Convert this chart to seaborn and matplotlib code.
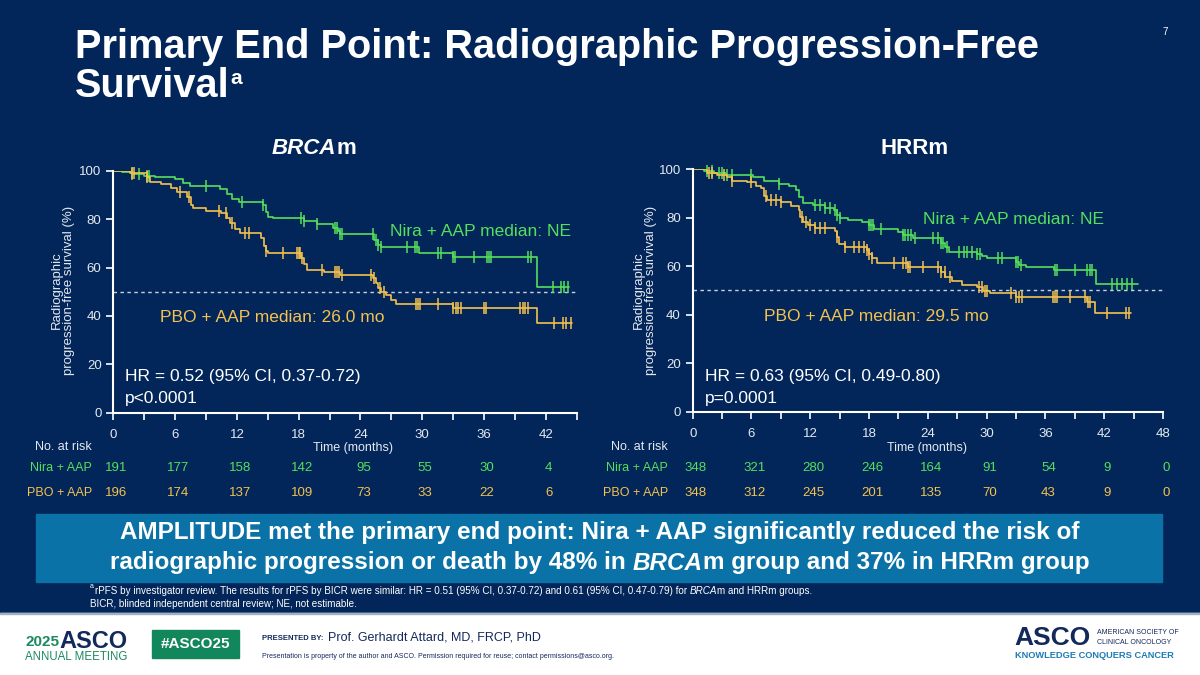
import numpy as np
import pandas as pd
import matplotlib
matplotlib.use('Agg')
import matplotlib.pyplot as plt
import seaborn as sns
from matplotlib.patches import Rectangle
from matplotlib.transforms import blended_transform_factory

# ---- data ----
# BRCAm panel
brca_nira_t = [0, 0.8, 1.8, 3.0, 4.0, 6.0, 6.8, 7.4, 10.4, 11.0, 11.5, 12.2, 14.5, 14.8, 15.0, 15.5,
               18.5, 19.8, 21.3, 21.8, 22.0, 25.3, 25.7, 26.0, 29.7, 33.0, 41.2, 44.3]
brca_nira_s = [100, 99.5, 98.8, 98.0, 97.3, 96.5, 95.0, 93.8, 92.5, 90.5, 88.5, 87.0, 85.8, 83.0, 81.0, 80.6,
               79.3, 78.0, 76.5, 75.0, 73.8, 71.5, 69.5, 68.6, 66.0, 64.5, 51.8, 51.8]
brca_nira_cens = [1.8, 2.5, 3.3, 3.5, 9.0, 12.5, 14.5, 18.2, 18.5, 19.8, 21.5, 21.7, 22.0, 22.2, 25.2, 25.5,
                  25.7, 26.0, 28.5, 29.3, 29.5, 31.5, 31.8, 33.0, 33.2, 35.0, 36.3, 36.5, 36.7, 40.3, 40.6,
                  42.7, 43.5, 43.8, 44.2]

brca_pbo_t = [0, 1.6, 3.3, 3.6, 4.6, 5.6, 6.2, 7.2, 7.5, 7.7, 9.0, 10.5, 11.0, 11.3, 11.8, 12.3, 14.3, 14.6,
              14.8, 15.0, 18.2, 18.5, 18.8, 20.5, 22.0, 25.2, 25.5, 25.7, 26.0, 26.5, 27.0, 27.5, 33.0, 41.2, 44.6]
brca_pbo_s = [100, 99.0, 97.5, 95.5, 94.5, 93.0, 91.3, 89.0, 86.0, 84.4, 83.3, 82.4, 80.3, 78.2, 76.0, 74.1, 72.0,
              69.0, 67.0, 65.8, 63.8, 61.5, 59.0, 58.3, 56.9, 55.5, 53.5, 51.5, 50.0, 48.5, 46.5, 44.9, 43.1,
              37.2, 37.2]
brca_pbo_cens = [1.8, 2.0, 3.3, 6.5, 7.3, 10.3, 10.9, 11.5, 12.8, 13.2, 14.8, 16.5, 17.8, 18.0, 18.1, 18.3,
                 20.3, 21.5, 21.7, 21.9, 22.2, 25.0, 25.3, 25.9, 26.3, 29.4, 29.6, 29.8, 31.5, 33.0, 33.3,
                 33.5, 33.8, 36.0, 36.2, 39.5, 39.8, 40.0, 40.3, 42.8, 43.7, 44.0, 44.5]

# HRRm panel
hrr_nira_t = [0, 1.2, 2.2, 3.4, 6.2, 7.3, 8.8, 9.8, 10.5, 10.9, 11.3, 12.3, 13.5, 14.4, 14.7, 15.0, 15.8,
              17.3, 18.0, 18.5, 21.0, 21.5, 22.5, 25.3, 25.7, 26.2, 29.0, 29.5, 30.0, 33.0, 33.3, 34.0, 36.9,
              41.2, 45.4]
hrr_nira_s = [100, 99.3, 98.5, 97.5, 96.5, 95.0, 94.0, 93.0, 91.5, 88.5, 86.0, 85.0, 84.0, 83.0, 81.0, 79.8,
              79.0, 78.0, 77.0, 75.3, 74.2, 72.8, 71.4, 69.5, 68.0, 66.0, 65.0, 64.0, 63.2, 61.5, 60.3, 59.8,
              58.4, 52.5, 52.5]
hrr_nira_cens = [1.5, 2.0, 2.7, 3.0, 3.5, 4.0, 6.0, 8.8, 12.5, 13.0, 13.5, 14.0, 14.5, 14.7, 15.0, 18.0, 18.2,
                 18.4, 19.2, 21.5, 21.7, 22.0, 22.3, 22.7, 24.5, 25.0, 25.3, 25.5, 26.0, 27.2, 27.7, 28.0,
                 28.5, 29.0, 29.3, 31.2, 31.6, 33.0, 33.2, 33.5, 37.0, 37.2, 39.0, 40.2, 40.5, 40.8, 42.8,
                 43.3, 43.8, 44.3, 44.8]

hrr_pbo_t = [0, 1.5, 2.5, 3.5, 4.0, 5.5, 6.5, 7.0, 7.3, 7.6, 9.0, 10.0, 10.8, 11.0, 11.3, 11.8, 12.5, 14.5,
             14.7, 14.9, 15.5, 17.8, 18.0, 18.3, 18.8, 22.0, 25.3, 25.8, 26.5, 27.5, 29.0, 29.6, 30.3, 33.0,
             40.2, 41.1, 44.7]
hrr_pbo_s = [100, 98.5, 97.5, 96.5, 95.0, 94.5, 93.0, 92.0, 89.0, 87.2, 86.5, 84.8, 83.1, 80.1, 78.0, 77.0,
             75.5, 74.5, 72.1, 69.1, 68.0, 66.6, 65.0, 63.2, 61.1, 59.8, 57.7, 55.6, 53.8, 52.2, 51.5, 49.9,
             48.8, 47.4, 45.3, 40.8, 40.8]
hrr_pbo_cens = [1.7, 2.0, 3.2, 4.0, 6.0, 7.5, 8.0, 8.5, 9.0, 11.2, 11.6, 12.0, 12.5, 13.0, 13.5, 14.7, 15.5,
                16.5, 17.0, 17.5, 17.8, 18.0, 18.3, 20.5, 21.5, 21.8, 22.0, 22.2, 23.5, 25.0, 25.3, 25.7,
                26.3, 29.2, 29.5, 29.8, 30.0, 32.5, 33.0, 33.3, 33.6, 36.8, 37.0, 37.2, 38.5, 40.0, 40.3,
                40.6, 42.3, 44.2, 44.5]

risk_months = [0, 6, 12, 18, 24, 30, 36, 42, 48]
brca_risk_nira = [191, 177, 158, 142, 95, 55, 30, 4]
brca_risk_pbo = [196, 174, 137, 109, 73, 33, 22, 6]
hrr_risk_nira = [348, 321, 280, 246, 164, 91, 54, 9, 0]
hrr_risk_pbo = [348, 312, 245, 201, 135, 70, 43, 9, 0]

# ---- styling ----
NAVY = '#022659'
GREEN = '#55e05c'
YELLOW = '#f3c24f'
BANNER = '#0a72a6'
LIGHT = '#e4e9f0'

sns.set_theme(style='white')
plt.rcParams['font.family'] = ['Liberation Sans', 'DejaVu Sans']

W, H = 1200, 675
fig = plt.figure(figsize=(12, 6.75), dpi=100, facecolor=NAVY)


def fx(x):
    return x / W


def fy(y):
    return 1 - y / H


def put(x, y, s, **kw):
    return fig.text(fx(x), fy(y), s, **kw)


def run(x, y, pieces, size, color, ha='center', weight='normal'):
    # draw a line made of pieces with different styles, side by side
    r = fig.canvas.get_renderer()
    objs = []
    for txt, style in pieces:
        objs.append(fig.text(0, fy(y), txt, fontsize=size, color=color, style=style,
                             weight=weight, va='center', ha='left'))
    widths = [o.get_window_extent(r).width for o in objs]
    x0 = x - sum(widths) / 2 if ha == 'center' else x
    for o, w in zip(objs, widths):
        o.set_x(fx(x0))
        x0 += w
    return x0


# white footer
fig.add_artist(Rectangle((0, 0), 1, fy(613), transform=fig.transFigure, color='white', zorder=0))
fig.add_artist(Rectangle((0, fy(614)), 1, 1 / H, transform=fig.transFigure, color='#9fb0c8', zorder=0))

# title
put(75, 47, 'Primary End Point: Radiographic Progression-Free', fontsize=28.6, weight='bold',
    color='white', va='center')
end = run(75, 86, [('Survival', 'normal')], 28.6, 'white', ha='left', weight='bold')
put(end + 1, 79, 'a', fontsize=15, weight='bold', color='white', va='center')
put(1165, 32, '7', fontsize=7, color='white', va='center', ha='center')


def draw_km(ax, t, s, cens, color):
    df = pd.DataFrame({'t': t, 's': s})
    sns.lineplot(data=df, x='t', y='s', drawstyle='steps-post', color=color, lw=1.2,
                 estimator=None, sort=False, ax=ax)
    idx = np.searchsorted(t, cens, side='right') - 1
    ax.plot(cens, np.array(s)[idx], ls='none', marker='|', ms=8, mew=1.1, color=color, clip_on=False)


def setup_axes(left, right, top, bottom, xmax):
    ax = fig.add_axes([fx(left), fy(bottom), (right - left) / W, (bottom - top) / H])
    ax.set_facecolor('none')
    ax.set_xlim(0, xmax)
    ax.set_ylim(0, 100)
    for sp in ['top', 'right']:
        ax.spines[sp].set_visible(False)
    for sp in ['left', 'bottom']:
        ax.spines[sp].set_color('white')
        ax.spines[sp].set_linewidth(1.5)
    ax.set_xticks(np.arange(0, xmax + 0.1, 6))
    ax.set_xticks(np.arange(3, xmax + 0.1, 6), minor=True)
    ax.set_yticks([0, 20, 40, 60, 80, 100])
    ax.tick_params(axis='both', which='both', direction='out', length=5, width=1.2,
                   color='white', labelcolor=LIGHT, labelsize=9.5, bottom=True, left=True)
    ax.tick_params(axis='x', pad=7)
    ax.axhline(50, color='#c8d0dc', lw=1.0, ls=(0, (2.5, 2.5)), zorder=1)
    return ax


ax1 = setup_axes(113.4, 576.5, 170.7, 412.7, 45)
ax2 = setup_axes(692.7, 1163, 169, 411.7, 48)

draw_km(ax1, brca_nira_t, brca_nira_s, brca_nira_cens, GREEN)
draw_km(ax1, brca_pbo_t, brca_pbo_s, brca_pbo_cens, YELLOW)
draw_km(ax2, hrr_nira_t, hrr_nira_s, hrr_nira_cens, GREEN)
draw_km(ax2, hrr_pbo_t, hrr_pbo_s, hrr_pbo_cens, YELLOW)

for ax in (ax1, ax2):
    ax.set_xlabel('')
    ax.set_ylabel('')

# panel titles
run(314, 148, [('BRCA', 'italic'), ('m', 'normal')], 16, 'white', weight='bold')
put(915, 148, 'HRRm', fontsize=16, weight='bold', color='white', ha='center', va='center')

# y labels
for xc in (63, 645):
    put(xc, 290, 'Radiographic\nprogression-free survival (%)', fontsize=9.5, color=LIGHT,
        rotation=90, ha='center', va='center', linespacing=1.05)

# in-plot annotations
put(390, 231, 'Nira + AAP median: NE', fontsize=12.5, color=GREEN, va='center')
put(160, 318, 'PBO + AAP median: 26.0 mo', fontsize=12.5, color=YELLOW, va='center')
put(125, 377, 'HR = 0.52 (95% CI, 0.37-0.72)', fontsize=12.5, color='white', va='center')
put(125, 398, 'p<0.0001', fontsize=12.5, color='white', va='center')

put(923, 220, 'Nira + AAP median: NE', fontsize=12.5, color=GREEN, va='center')
put(764, 316, 'PBO + AAP median: 29.5 mo', fontsize=12.5, color=YELLOW, va='center')
put(705, 377, 'HR = 0.63 (95% CI, 0.49-0.80)', fontsize=12.5, color='white', va='center')
put(705, 398, 'p=0.0001', fontsize=12.5, color='white', va='center')

# number at risk tables
for ax, lab_x, nira, pbo, tx in ((ax1, 92, brca_risk_nira, brca_risk_pbo, 353),
                                 (ax2, 668, hrr_risk_nira, hrr_risk_pbo, 927)):
    put(lab_x, 447, 'No. at risk', fontsize=9, color=LIGHT, ha='right', va='center')
    put(tx, 448, 'Time (months)', fontsize=9, color=LIGHT, ha='center', va='center')
    put(lab_x, 468, 'Nira + AAP', fontsize=9, color=GREEN, ha='right', va='center')
    put(lab_x, 493, 'PBO + AAP', fontsize=9, color=YELLOW, ha='right', va='center')
    tr = blended_transform_factory(ax.transData, fig.transFigure)
    for m, n in zip(risk_months, nira):
        ax.text(m + 0.3, fy(468), str(n), transform=tr, fontsize=9.5, color=GREEN, ha='center', va='center')
    for m, n in zip(risk_months, pbo):
        ax.text(m + 0.3, fy(493), str(n), transform=tr, fontsize=9.5, color=YELLOW, ha='center', va='center')

# conclusion banner
fig.add_artist(Rectangle((fx(36), fy(582)), (1162 - 36) / W, (582 - 514) / H,
                         transform=fig.transFigure, color=BANNER, zorder=1))
run(600, 533, [('AMPLITUDE met the primary end point: Nira + AAP significantly reduced the risk of', 'normal')],
    17.5, 'white', weight='bold')
run(600, 563, [('radiographic progression or death by 48% in ', 'normal'), ('BRCA', 'italic'),
               ('m group and 37% in HRRm group', 'normal')], 17.5, 'white', weight='bold')

# footnotes
put(90, 586, 'a', fontsize=5, color='white', va='center')
run(95, 591, [('rPFS by investigator review. The results for rPFS by BICR were similar: HR = 0.51 (95% CI, '
               '0.37-0.72) and 0.61 (95% CI, 0.47-0.79) for ', 'normal'), ('BRCA', 'italic'),
              ('m and HRRm groups.', 'normal')], 7.1, 'white', ha='left')
put(90, 604, 'BICR, blinded independent central review; NE, not estimable.', fontsize=7.1, color='white',
    va='center')

# footer logos
put(25, 642, '2025', fontsize=11, weight='bold', color='#1b8a5e', va='center')
put(59, 641, 'ASCO', fontsize=17, weight='bold', color='#13285b', va='center')
put(25, 657, 'ANNUAL MEETING', fontsize=8.3, color='#1b8a5e', va='center')
fig.add_artist(Rectangle((fx(152), fy(658)), 87 / W, 28 / H, transform=fig.transFigure,
                         color='#12875c', zorder=1))
put(195.5, 644, '#ASCO25', fontsize=11, weight='bold', color='white', ha='center', va='center')
put(262, 638, 'PRESENTED BY:', fontsize=5.5, weight='bold', color='#13285b', va='center')
put(328, 637, 'Prof. Gerhardt Attard, MD, FRCP, PhD', fontsize=9, color='#13285b', va='center')
put(262, 656, 'Presentation is property of the author and ASCO. Permission required for reuse; '
    'contact permissions@asco.org.', fontsize=5, color='#13285b', va='center')

put(1014, 638, 'ASCO', fontsize=19, weight='bold', color='#13285b', va='center')
put(1097, 633, 'AMERICAN SOCIETY OF', fontsize=5, color='#13285b', va='center')
put(1097, 642, 'CLINICAL ONCOLOGY', fontsize=5, color='#13285b', va='center')
put(1015, 656, 'KNOWLEDGE CONQUERS CANCER', fontsize=6.7, weight='bold', color='#1d7bb5', va='center')

fig.savefig('out.png', dpi=100, facecolor=NAVY)
